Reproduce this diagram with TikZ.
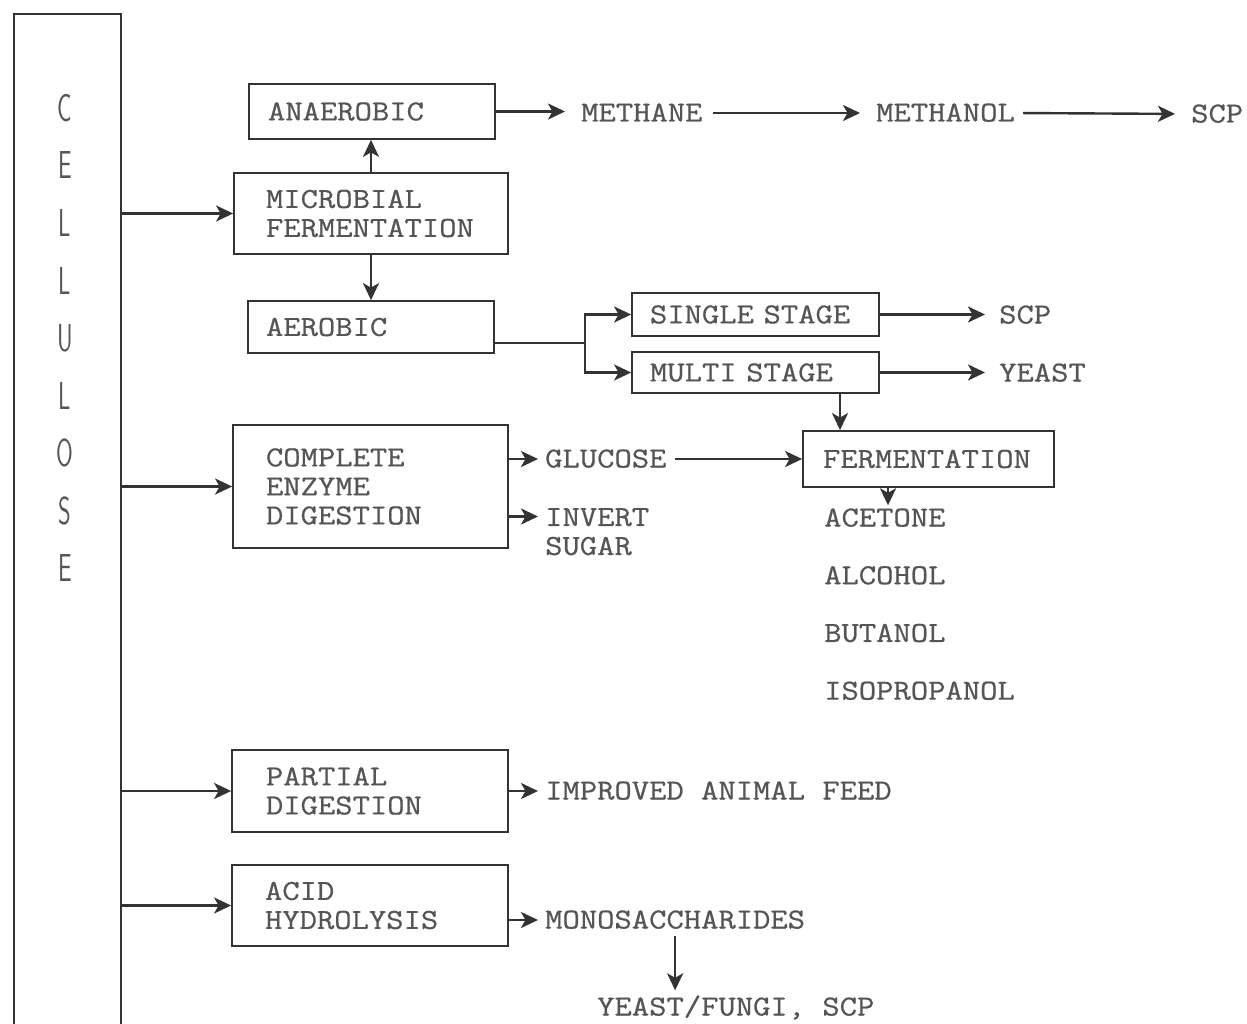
\documentclass[tikz,border=0pt]{standalone}
\usepackage{fontspec}
\usepackage{graphicx}
\setmonofont{Latin Modern Mono}[FakeStretch=1.16, FakeBold=0.7]
\usetikzlibrary{arrows.meta}

\definecolor{ink}{HTML}{333333}
\definecolor{typed}{HTML}{555555}

\tikzset{
  stagebox/.style={draw=ink, line width=1.8pt, align=left, inner ysep=0pt, inner xsep=#1,
    font=\ttfamily\fontsize{29}{29}\selectfont, text=typed},
  product/.style={anchor=west, inner sep=0pt, text height=17pt, text depth=0pt,
    font=\ttfamily\fontsize{29}{29}\selectfont, text=typed},
  cellchar/.style={font=\sffamily\fontsize{39}{39}\selectfont, text=typed},
  flow/.style={draw=ink, line width=2.4pt, -{Stealth[length=17pt,width=16pt,inset=4.5pt]}}
}

\begin{document}
\begin{tikzpicture}[x=1pt, y=-1pt]
\useasboundingbox (0,0) rectangle (1247,1024);
\fill[white] (0,0) rectangle (1247,1024);
\clip (0,0) rectangle (1247,1024);

% the tall cellulose column, open at the bottom
\node[draw=ink, line width=1.8pt, anchor=north west, minimum width=107pt, minimum height=1100pt, inner sep=0pt] (cell) at (13,13) {};
\foreach \ch [count=\i] in {C,E,L,L,U,L,O,S,E}
  \node[cellchar] (letter\i) at (65, {108+57.5*(\i-1)}) {\scalebox{0.62}[1]{\ch}};

% process boxes
\node[stagebox=19pt, text width=208pt, minimum height=55pt] (anaer) at (372,111.5) {ANAEROBIC};
\node[stagebox=32pt, text width=210pt, minimum height=81pt] (micro) at (371,213.5) {MICROBIAL\\FERMENTATION};
\node[stagebox=18pt, text width=210pt, minimum height=52pt] (aer) at (371,327) {AEROBIC};
\node[stagebox=18pt, text width=211pt, minimum height=43pt] (single) at (755.5,314.5) {SINGLE STAGE};
\node[stagebox=18pt, text width=211pt, minimum height=41pt] (multi) at (755.5,372.5) {MULTI STAGE};
\node[stagebox=20pt, text width=211pt, minimum height=56pt] (ferm) at (928.5,459) {FERMENTATION};
\node[stagebox=33pt, text width=209pt, minimum height=123pt] (enzyme) at (370.5,486.5) {COMPLETE\\ENZYME\\DIGESTION};
\node[stagebox=34pt, text width=208pt, minimum height=82pt] (partial) at (370,791) {PARTIAL\\DIGESTION};
\node[stagebox=33pt, text width=210pt, minimum height=81pt] (acid) at (370,905.5) {ACID\\HYDROLYSIS};

% products
\node[product] (methane) at (581,113) {METHANE};
\node[product] (methanol) at (876,113) {METHANOL};
\node[product] (scpa) at (1191,114) {SCP};
\node[product] (scpb) at (999,315) {SCP};
\node[product] (yeast) at (999,373) {YEAST};
\node[product] (glucose) at (545,459) {GLUCOSE};
\node[product, anchor=north west, text height=, align=left] (invert) at (545,508) {INVERT\\SUGAR};
\foreach \solvent [count=\i] in {ACETONE,ALCOHOL,BUTANOL,ISOPROPANOL}
  \node[product] (solv\i) at (824, {518+57.7*(\i-1)}) {\solvent};
\node[product] (feed) at (545,791) {IMPROVED ANIMAL FEED};
\node[product] (mono) at (545,920) {MONOSACCHARIDES};
\node[product] (fungi) at (597,1007) {YEAST/FUNGI, SCP};

% feeds from the column
\draw[flow] (cell.east |- micro.west) -- (micro.west);
\draw[flow] (cell.east |- enzyme.west) -- (enzyme.west);
\draw[flow] (cell.east |- partial.west) -- (partial.west);
\draw[flow] (cell.east |- acid.west) -- (acid.west);

% microbial routes
\draw[flow] (micro.north) -- (micro.north |- anaer.south);
\draw[flow] (micro.south) -- (micro.south |- aer.north);
\draw[flow, shorten >=16pt] (anaer.east) -- (anaer.east -| methane.west);
\draw[flow, shorten <=10pt, shorten >=16pt] (methane.east) -- (methanol.west);
\draw[flow, shorten <=8pt, shorten >=16pt] (methanol.east) -- (scpa.west);

\coordinate (split) at (585,343);
\draw[flow] (aer.east |- split) -- (split) |- (single.west);
\draw[flow] (split) |- (multi.west);
\draw[flow, shorten >=14pt] (single.east) -- (single.east -| scpb.west);
\draw[flow, shorten >=14pt] (multi.east) -- (multi.east -| yeast.west);
\coordinate (drop) at ([xshift=84.5pt]multi.south);
\draw[flow] (drop) -- (drop |- ferm.north);

% enzyme route
\draw[flow, shorten >=7pt] (enzyme.east |- glucose.west) -- (glucose.west);
\draw[flow, shorten >=7pt] (enzyme.east |- invert.north west) ++(0,8.5) -- ([yshift=-8.5pt]invert.north west);
\draw[flow, shorten <=8pt] (glucose.east) -- (glucose.east -| ferm.west);
\coordinate (tap) at ([xshift=-40.5pt]ferm.south);
\draw[flow, shorten >=4pt] (tap) -- (tap |- solv1.north);

% partial digestion and hydrolysis
\draw[flow, shorten >=7pt] (partial.east |- feed.west) -- (feed.west);
\draw[flow, shorten >=7pt] (acid.east |- mono.west) -- (mono.west);
\draw[flow, shorten <=7pt, shorten >=8pt] (mono.south) -- (mono.south |- fungi.north);
\end{tikzpicture}
\end{document}
